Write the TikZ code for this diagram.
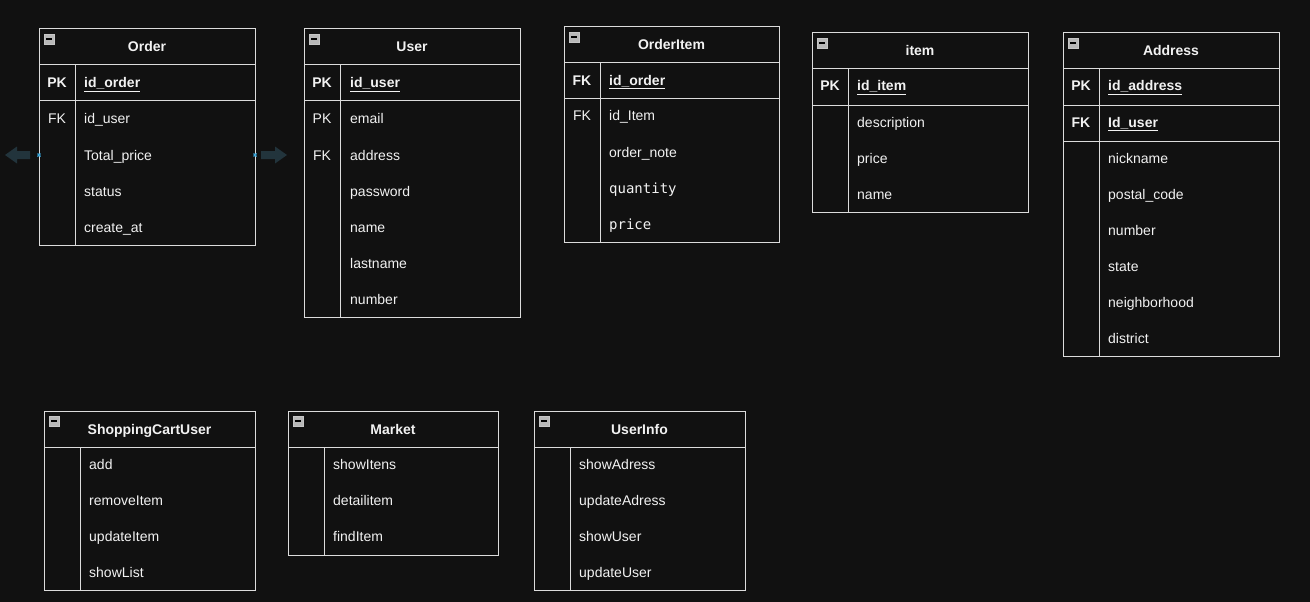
\documentclass[tikz,border=0pt]{standalone}
\usepackage{fontspec}
\setmainfont{Liberation Sans}
\setmonofont{DejaVu Sans Mono}
\definecolor{bgc}{HTML}{111111}
\definecolor{linec}{HTML}{DCDCDC}
\definecolor{txtc}{HTML}{F2F2F2}
\definecolor{arrc}{HTML}{22343C}
\definecolor{mkc}{HTML}{3AA6DA}
\definecolor{icnc}{HTML}{B8B8B8}
\newcommand\ertab[8]{%
  \node[tbl, minimum width={(#4-#2)*1pt}, minimum height={(#5-#3)*1pt}] (#1) at (#2,#3) {};
  \draw[ln] (#2,#7) -- (#4,#7);
  \draw[ln] (#6,#7) -- (#6,#5);
  \draw[icn] (#2+5,#3+5) rectangle (#2+15,#3+15);
  \draw[black, line width=1.6pt] (#2+7,#3+10) -- (#2+13,#3+10);
  \node[ttl] (#1-title) at ({(#2+#4)/2},{(#3+#7)/2+5}) {#8};
}
\newcommand\fldn[4]{\node[fldt] (#1) at (#2,#3+5) {#4};}
\newcommand\keyn[4]{\node[keyt] (#1) at (#2,#3+5) {#4};}
\begin{document}
\begin{tikzpicture}[x=1pt,y=-1pt,
  tbl/.style={draw=linec, line width=1pt, fill=bgc, anchor=north west, inner sep=0pt, outer sep=0pt},
  ln/.style={draw=linec, line width=1pt},
  icn/.style={draw=gray!45, fill=icnc, line width=0.8pt},
  ttl/.style={text=txtc, font=\fontsize{14}{16}\selectfont\bfseries, inner sep=0pt, anchor=base},
  fldt/.style={text=txtc, font=\fontsize{14}{16}\selectfont, anchor=base west, inner sep=0pt},
  keyt/.style={text=txtc, font=\fontsize{14}{16}\selectfont, inner sep=0pt, anchor=base},
  arr/.style={fill=arrc},
  mk/.style={draw=mkc, line width=1.3pt}]
\fill[bgc] (0,0) rectangle (1310,602);
\useasboundingbox (0,0) rectangle (1310,602);

% Order
\ertab{order}{39}{29}{255}{245}{75}{65}{Order}
\draw[ln] (39,101) -- (255,101);
\keyn{order-k1}{57}{83}{\bfseries PK}
\keyn{order-k2}{57}{119}{FK}
\fldn{order-f1}{84}{83}{\bfseries\underline{id\_order}}
\fldn{order-f2}{84}{119}{id\_user}
\fldn{order-f3}{84}{155}{Total\_price}
\fldn{order-f4}{84}{191}{status}
\fldn{order-f5}{84}{227}{create\_at}
\fill[arr] (5,155) -- (17,146.5) -- (17,151) -- (30,151) -- (30,159) -- (17,159) -- (17,163.5) -- cycle;
\fill[arr] (287,155) -- (275,146.5) -- (275,151) -- (261,151) -- (261,159) -- (275,159) -- (275,163.5) -- cycle;
\draw[mk] (37.5,153.5) -- (40.5,156.5) (37.5,156.5) -- (40.5,153.5);
\draw[mk] (253.5,153.5) -- (256.5,156.5) (253.5,156.5) -- (256.5,153.5);

% User
\ertab{user}{304}{29}{520}{317}{340}{65}{User}
\draw[ln] (304,101) -- (520,101);
\keyn{user-k1}{322}{83}{\bfseries PK}
\keyn{user-k2}{322}{119}{PK}
\keyn{user-k3}{322}{155}{FK}
\fldn{user-f1}{350}{83}{\bfseries\underline{id\_user}}
\fldn{user-f2}{350}{119}{email}
\fldn{user-f3}{350}{155}{address}
\fldn{user-f4}{350}{191}{password}
\fldn{user-f5}{350}{227}{name}
\fldn{user-f6}{350}{263}{lastname}
\fldn{user-f7}{350}{299}{number}

% OrderItem
\ertab{orderitem}{564}{27}{779}{242}{600}{63}{OrderItem}
\draw[ln] (564,99) -- (779,99);
\keyn{oi-k1}{582}{80}{\bfseries FK}
\keyn{oi-k2}{582}{116}{FK}
\fldn{oi-f1}{609}{80}{\bfseries\underline{id\_order}}
\fldn{oi-f2}{609}{116}{id\_Item}
\fldn{oi-f3}{609}{152}{order\_note}
\fldn{oi-f4}{609}{188}{\ttfamily quantity}
\fldn{oi-f5}{609}{224}{\ttfamily price}

% item
\ertab{item}{812}{33}{1028}{212}{848}{69}{item}
\draw[ln] (812,105) -- (1028,105);
\keyn{item-k1}{830}{86}{\bfseries PK}
\fldn{item-f1}{857}{86}{\bfseries\underline{id\_item}}
\fldn{item-f2}{857}{122}{description}
\fldn{item-f3}{857}{158}{price}
\fldn{item-f4}{857}{194}{name}

% Address
\ertab{address}{1063}{33}{1279}{356}{1099}{69}{Address}
\draw[ln] (1063,105) -- (1279,105);
\draw[ln] (1063,141) -- (1279,141);
\keyn{ad-k1}{1081}{86}{\bfseries PK}
\keyn{ad-k2}{1081}{122}{\bfseries FK}
\fldn{ad-f1}{1108}{86}{\bfseries\underline{id\_address}}
\fldn{ad-f2}{1108}{122}{\bfseries\underline{Id\_user}}
\fldn{ad-f3}{1108}{158}{nickname}
\fldn{ad-f4}{1108}{194}{postal\_code}
\fldn{ad-f5}{1108}{230}{number}
\fldn{ad-f6}{1108}{266}{state}
\fldn{ad-f7}{1108}{302}{neighborhood}
\fldn{ad-f8}{1108}{338}{district}

% ShoppingCartUser
\ertab{cart}{44}{411}{255}{590}{80}{447}{ShoppingCartUser}
\fldn{cart-f1}{89}{464}{add}
\fldn{cart-f2}{89}{500}{removeItem}
\fldn{cart-f3}{89}{536}{updateItem}
\fldn{cart-f4}{89}{572}{showList}

% Market
\ertab{market}{288}{411}{498}{555}{324}{447}{Market}
\fldn{market-f1}{333}{464}{showItens}
\fldn{market-f2}{333}{500}{detailitem}
\fldn{market-f3}{333}{536}{findItem}

% UserInfo
\ertab{userinfo}{534}{411}{745}{590}{570}{447}{UserInfo}
\fldn{ui-f1}{579}{464}{showAdress}
\fldn{ui-f2}{579}{500}{updateAdress}
\fldn{ui-f3}{579}{536}{showUser}
\fldn{ui-f4}{579}{572}{updateUser}
\end{tikzpicture}
\end{document}
